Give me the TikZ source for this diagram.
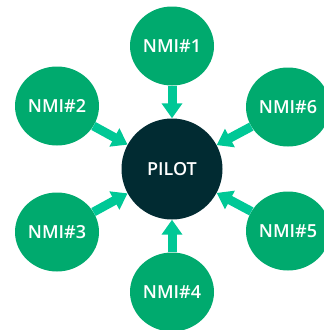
\documentclass[tikz,border=0pt]{standalone}
\usepackage{fontspec}
\setmainfont{Open Sans}
\newfontfamily\nmifont{Open Sans Semibold}
\usetikzlibrary{arrows.meta,shapes.geometric}
\definecolor{nmigreen}{HTML}{00AA6E}
\definecolor{feedgreen}{HTML}{00C896}
\definecolor{pilotdark}{HTML}{012B32}
\tikzset{
    %Define style for the outer circles
    nmi/.style={
           ellipse,
           fill=nmigreen,
           minimum width=84pt,
           minimum height=79pt,
           inner sep=0pt,
           text=white,
           font=\nmifont\fontsize{18}{20}\selectfont},
    %Define style for the centre circle
    hub/.style={
           circle,
           fill=pilotdark,
           minimum size=101pt,
           inner sep=0pt,
           text=white,
           font=\nmifont\fontsize{18}{20}\selectfont},
    % Define arrow style
    feed/.style={
           -{Triangle[width=20pt,length=15pt]},
           draw=feedgreen,
           line width=9pt}
}
\begin{document}
\begin{tikzpicture}[x=1pt, y=-1pt]
 \useasboundingbox (0,0) rectangle (324,330);
 \node[hub] (pilot) at (172,169) {PILOT};
 \node[nmi] (nmi1) at (172,46)  {NMI\#1};
 \node[nmi] (nmi2) at (57,106)  {NMI\#2};
 \node[nmi] (nmi3) at (57,232)  {NMI\#3};
 \node[nmi] (nmi4) at (172,292) {NMI\#4};
 \node[nmi] (nmi5) at (288,231) {NMI\#5};
 \node[nmi] (nmi6) at (288,107) {NMI\#6};
 \foreach \n in {nmi1,nmi2,nmi3,nmi4,nmi5,nmi6}
   \draw[feed] (\n) -- (pilot);
\end{tikzpicture}
\end{document}
